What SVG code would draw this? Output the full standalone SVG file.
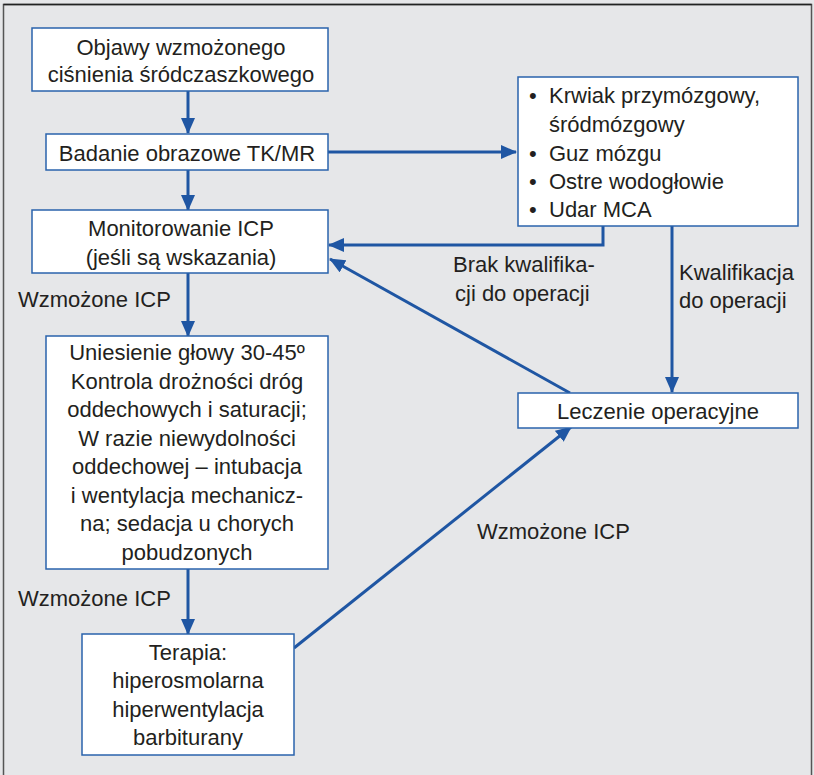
<svg xmlns="http://www.w3.org/2000/svg" width="814" height="775" viewBox="0 0 814 775">
<style>
.box{fill:#ffffff;stroke:#2a63ac;stroke-width:1.5}
.t{font-family:"Liberation Sans",Arial,sans-serif;font-size:22px;fill:#231f20}
.c{text-anchor:middle}
.ln{fill:none;stroke:#1f56a3;stroke-width:3}
</style>
<defs>
<marker id="ah" markerUnits="userSpaceOnUse" markerWidth="16" markerHeight="14" refX="15" refY="7" orient="auto" viewBox="0 0 16 14">
<path d="M0,0 L16,7 L0,14 Z" fill="#1f56a3"/>
</marker>
</defs>
<rect x="0" y="0" width="814" height="775" fill="#e6e7e9"/>
<path d="M3.5,775 V4.5 H811.5 V775" fill="none" stroke="#555" stroke-width="1.5"/>
<path d="M3.5,4.5 H811.5" stroke="#222" stroke-width="1.5"/>

<g id="connectors">
<line class="ln" x1="188" y1="91" x2="188" y2="133" marker-end="url(#ah)"/>
<line class="ln" x1="328" y1="152" x2="516" y2="152" marker-end="url(#ah)"/>
<line class="ln" x1="188" y1="170" x2="188" y2="210" marker-end="url(#ah)"/>
<polyline class="ln" points="603,226 603,245 329,245" marker-end="url(#ah)"/>
<line class="ln" x1="672" y1="226" x2="672" y2="392" marker-end="url(#ah)"/>
<line class="ln" x1="570" y1="393" x2="330" y2="259" marker-end="url(#ah)"/>
<line class="ln" x1="188" y1="273" x2="188" y2="336" marker-end="url(#ah)"/>
<line class="ln" x1="188" y1="569" x2="188" y2="634" marker-end="url(#ah)"/>
<line class="ln" x1="294" y1="648" x2="571" y2="427" marker-end="url(#ah)"/>
<text class="t" x="453" y="272">Brak kwalifika-</text>
<text class="t" x="455" y="301">cji do operacji</text>
<text class="t" x="679" y="280">Kwalifikacja</text>
<text class="t" x="679" y="308">do operacji</text>
<text class="t" x="18" y="307">Wzmożone ICP</text>
<text class="t" x="18" y="606">Wzmożone ICP</text>
<text class="t" x="477" y="539">Wzmożone ICP</text>
</g>

<g id="n1">
<rect class="box" x="32" y="28" width="296" height="63"/>
<text class="t c" x="181" y="55">Objawy wzmożonego</text>
<text class="t c" x="181" y="82">ciśnienia śródczaszkowego</text>
</g>
<g id="n2">
<rect class="box" x="46" y="134" width="282" height="36"/>
<text class="t c" x="187" y="161">Badanie obrazowe TK/MR</text>
</g>
<g id="n3">
<rect class="box" x="518" y="77" width="280" height="149"/>
<text class="t" x="529" y="103">•</text><text class="t" x="549" y="103">Krwiak przymózgowy,</text>
<text class="t" x="549" y="132">śródmózgowy</text>
<text class="t" x="529" y="161">•</text><text class="t" x="549" y="161">Guz mózgu</text>
<text class="t" x="529" y="189">•</text><text class="t" x="549" y="189">Ostre wodogłowie</text>
<text class="t" x="529" y="217">•</text><text class="t" x="549" y="217">Udar MCA</text>
</g>
<g id="n4">
<rect class="box" x="32" y="210" width="296" height="63"/>
<text class="t c" x="181" y="236">Monitorowanie ICP</text>
<text class="t c" x="181" y="265">(jeśli są wskazania)</text>
</g>
<g id="n5">
<rect class="box" x="518" y="393" width="280" height="35"/>
<text class="t c" x="658" y="419">Leczenie operacyjne</text>
</g>
<g id="n6">
<rect class="box" x="46" y="336" width="282" height="233"/>
<text class="t c" x="187" y="360">Uniesienie głowy 30-45º</text>
<text class="t c" x="187" y="388.5">Kontrola drożności dróg</text>
<text class="t c" x="187" y="417">oddechowych i saturacji;</text>
<text class="t c" x="187" y="445.5">W razie niewydolności</text>
<text class="t c" x="187" y="474">oddechowej – intubacja</text>
<text class="t c" x="187" y="502.5">i wentylacja mechanicz-</text>
<text class="t c" x="187" y="531">na; sedacja u chorych</text>
<text class="t c" x="187" y="559.5">pobudzonych</text>
</g>
<g id="n7">
<rect class="box" x="82" y="634" width="212" height="121"/>
<text class="t c" x="188" y="660">Terapia:</text>
<text class="t c" x="188" y="688">hiperosmolarna</text>
<text class="t c" x="188" y="717">hiperwentylacja</text>
<text class="t c" x="188" y="745">barbiturany</text>
</g>
</svg>
